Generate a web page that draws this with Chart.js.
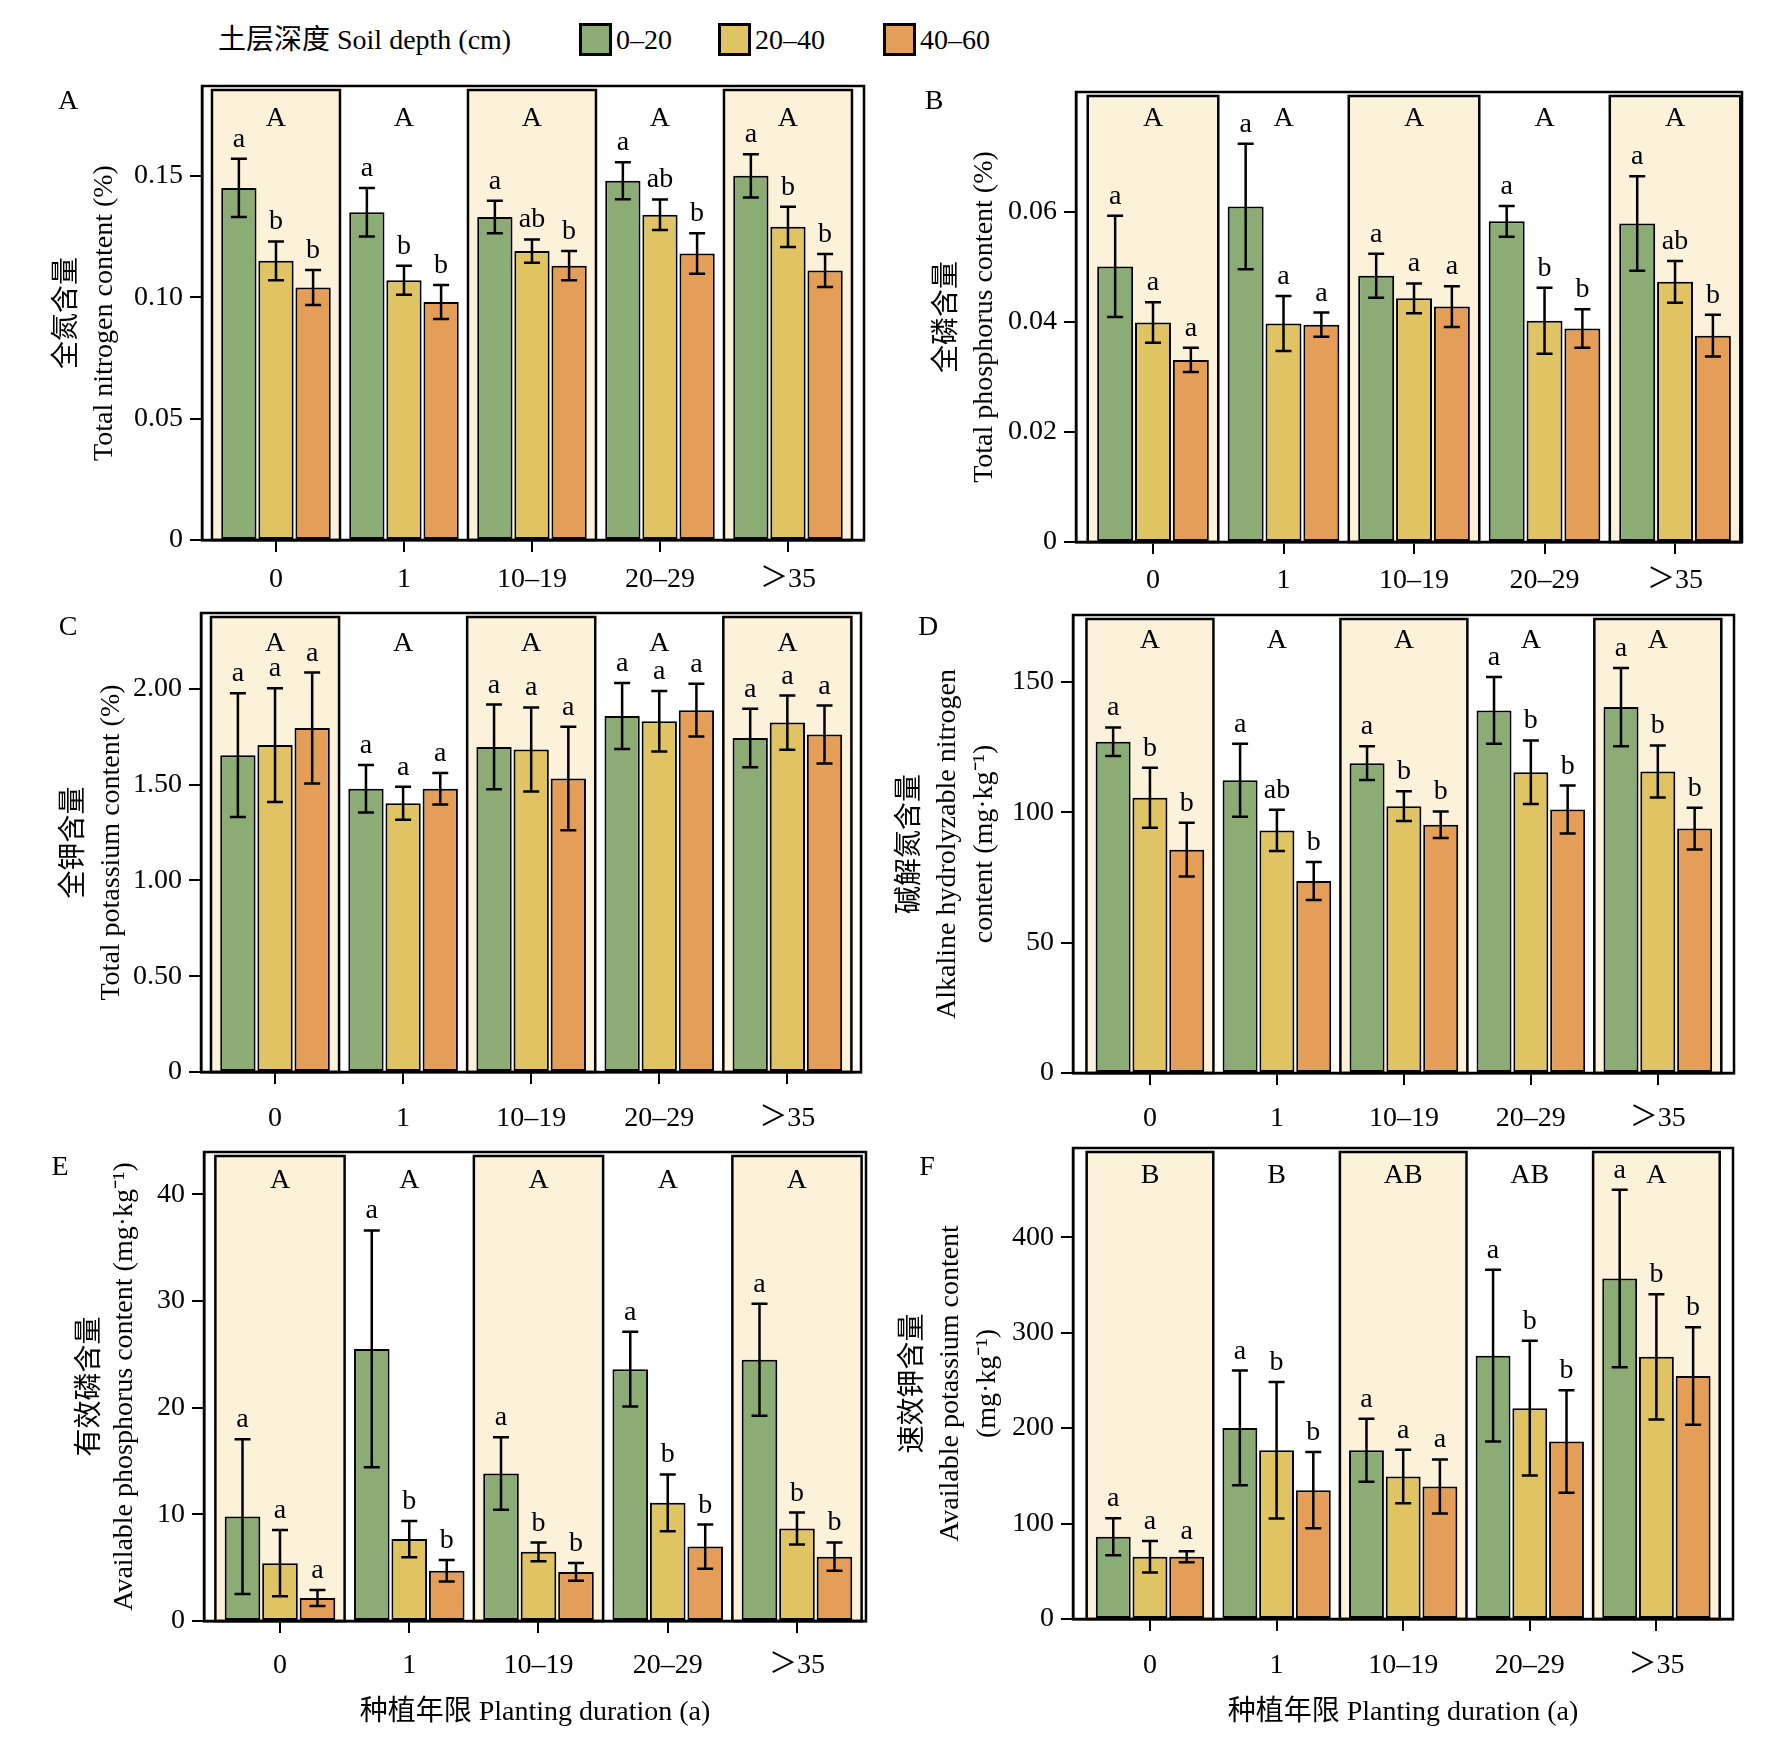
<!DOCTYPE html>
<html>
<head>
<meta charset="utf-8">
<script src="https://cdn.jsdelivr.net/npm/chart.js@4.4.1/dist/chart.umd.min.js"></script>
<style>
  body { margin: 0; width: 1777px; height: 1760px; position: relative; overflow: hidden; background: #fff;
         font-family: 'Liberation Serif', 'Noto Sans CJK SC', serif; color: #000; }
  canvas { position: absolute; }
  .txt { position: absolute; font-size: 28px; line-height: 1; white-space: nowrap; transform: translateY(-50%); }
  .tag { position: absolute; font-size: 28px; line-height: 1; transform: translate(-50%, -50%); }
  .key { position: absolute; top: 23px; width: 33px; height: 33px; box-sizing: border-box; border: 3px solid #000; }
</style>
</head>
<body>
<script>
// shared
const categories = ['0', '1', '10–19', '20–29', '＞35'];
const depths = ['0–20', '20–40', '40–60'];
const colors = ['#8BAD75', '#E0C463', '#E49E57'];
const shade = '#FCF1D9';

// A  total nitrogen (%)
const tnMean = [[0.145, 0.135, 0.133, 0.148, 0.150], [0.115, 0.107, 0.119, 0.134, 0.129], [0.104, 0.098, 0.113, 0.118, 0.111]];
const tnErr = [[0.012, 0.010, 0.0067, 0.0076, 0.0089], [0.008, 0.006, 0.0048, 0.0063, 0.0083], [0.0072, 0.007, 0.006, 0.0083, 0.0068]];
const tnLetters = [['a', 'a', 'a', 'a', 'a'], ['b', 'b', 'ab', 'ab', 'b'], ['b', 'b', 'b', 'b', 'b']];
const tnGroups = ['A', 'A', 'A', 'A', 'A'];
const tnTicks = [0, 0.05, 0.10, 0.15];
const tnTickLabels = ['0', '0.05', '0.10', '0.15'];

// B  total phosphorus (%)
const tpMean = [[0.0501, 0.0610, 0.0484, 0.0583, 0.0579], [0.0399, 0.0397, 0.0443, 0.0402, 0.0473], [0.0331, 0.0395, 0.0428, 0.0388, 0.0375]];
const tpErr = [[0.0092, 0.0114, 0.004, 0.0028, 0.0086], [0.0037, 0.005, 0.0027, 0.006, 0.0038], [0.0022, 0.0022, 0.0037, 0.0035, 0.0038]];
const tpLetters = [['a', 'a', 'a', 'a', 'a'], ['a', 'a', 'a', 'b', 'ab'], ['a', 'a', 'a', 'b', 'b']];
const tpGroups = ['A', 'A', 'A', 'A', 'A'];
const tpTicks = [0, 0.02, 0.04, 0.06];
const tpTickLabels = ['0', '0.02', '0.04', '0.06'];

// C  total potassium (%)
const tkMean = [[1.653, 1.478, 1.696, 1.858, 1.743], [1.706, 1.402, 1.683, 1.830, 1.823], [1.795, 1.478, 1.532, 1.888, 1.761]];
const tkErr = [[0.323, 0.124, 0.221, 0.172, 0.153], [0.297, 0.086, 0.219, 0.158, 0.141], [0.289, 0.082, 0.27, 0.138, 0.151]];
const tkLetters = [['a', 'a', 'a', 'a', 'a'], ['a', 'a', 'a', 'a', 'a'], ['a', 'a', 'a', 'a', 'a']];
const tkGroups = ['A', 'A', 'A', 'A', 'A'];
const tkTicks = [0, 0.5, 1, 1.5, 2];
const tkTickLabels = ['0', '0.50', '1.00', '1.50', '2.00'];

// D  alkaline hydrolyzable nitrogen (mg/kg)
const anMean = [[127.0, 112.2, 118.8, 139.0, 140.3], [105.5, 93.0, 102.3, 115.3, 115.6], [85.6, 73.6, 95.2, 101.0, 93.7]];
const anErr = [[5.5, 14, 6.5, 12.8, 15], [11.5, 7.9, 5.7, 12.2, 10], [10.3, 7.3, 5.1, 9.2, 8]];
const anLetters = [['a', 'a', 'a', 'a', 'a'], ['b', 'ab', 'b', 'b', 'b'], ['b', 'b', 'b', 'b', 'b']];
const anGroups = ['A', 'A', 'A', 'A', 'A'];
const anTicks = [0, 50, 100, 150];
const anTickLabels = ['0', '50', '100', '150'];

// E  available phosphorus (mg/kg)
const apMean = [[9.79, 25.5, 13.82, 23.6, 24.48], [5.42, 7.68, 6.48, 11.07, 8.66], [2.15, 4.71, 4.6, 6.97, 6.03]];
const apErr = [[7.25, 11.1, 3.4, 3.5, 5.24], [3.1, 1.7, 0.87, 2.67, 1.5], [0.75, 1.0, 0.83, 2.07, 1.33]];
const apLetters = [['a', 'a', 'a', 'a', 'a'], ['a', 'b', 'b', 'b', 'b'], ['a', 'b', 'b', 'b', 'b']];
const apGroups = ['A', 'A', 'A', 'A', 'A'];
const apTicks = [0, 10, 20, 30, 40];
const apTickLabels = ['0', '10', '20', '30', '40'];

// F  available potassium (mg/kg)
const akMean = [[86.2, 200.2, 176.7, 275.9, 356.7], [65.2, 176.7, 149.3, 220.8, 274.7], [65.2, 135.0, 138.8, 185.9, 254.5]];
const akErr = [[19.3, 60, 33, 90, 93], [16.4, 71.5, 28, 70.6, 65.6], [5.7, 40, 28.4, 53.6, 51]];
const akLetters = [['a', 'a', 'a', 'a', 'a'], ['a', 'b', 'a', 'b', 'b'], ['a', 'b', 'a', 'b', 'b']];
const akGroups = ['B', 'B', 'AB', 'AB', 'A'];
const akTicks = [0, 100, 200, 300, 400];
const akTickLabels = ['0', '100', '200', '300', '400'];

const xTitleText = '种植年限 Planting duration (a)';

Chart.defaults.font.family = "'Liberation Serif', 'Noto Sans CJK SC', serif";
Chart.defaults.font.size = 28;
Chart.defaults.color = '#000';

// legend
const legTitle = document.createElement('div');
legTitle.className = 'txt';
legTitle.style.left = '218px'; legTitle.style.top = '40px';
legTitle.textContent = '土层深度 Soil depth (cm)';
document.body.appendChild(legTitle);
[579, 718, 883].forEach((left, s) => {
  const box = document.createElement('div');
  box.className = 'key';
  box.style.left = left + 'px';
  box.style.background = colors[s];
  document.body.appendChild(box);
  const lab = document.createElement('div');
  lab.className = 'txt';
  lab.style.left = (left + 37) + 'px'; lab.style.top = '40px';
  lab.textContent = depths[s];
  document.body.appendChild(lab);
});

const panels = [
  { letter: 'A', tag: [68, 100], x: 0, y: 0, w: 888, h: 600, l: 202, t: 86, r: 864, b: 540,
    yMax: 0.187, xMin: -0.578, xMax: 4.594, mean: tnMean, err: tnErr, letters: tnLetters, groups: tnGroups,
    ticks: tnTicks, tickLabels: tnTickLabels, title: ['全氮含量', 'Total nitrogen content (%)'],
    titlePad: 49.5, lineH: 1.32, xLabelPad: 11, groupY: 40 },
  { letter: 'B', tag: [934, 100], x: 888, y: 0, w: 889, h: 600, l: 188, t: 92, r: 854, b: 542,
    yMax: 0.0818, xMin: -0.59, xMax: 4.513, mean: tpMean, err: tpErr, letters: tpLetters, groups: tpGroups,
    ticks: tpTicks, tickLabels: tpTickLabels, title: ['全磷含量', 'Total phosphorus content (%)'],
    titlePad: 41.5, lineH: 1.32, xLabelPad: 9.7, groupY: 34 },
  { letter: 'C', tag: [68, 626], x: 0, y: 600, w: 888, h: 530, l: 201, t: 13, r: 861, b: 472,
    yMax: 2.395, xMin: -0.578, xMax: 4.575, mean: tkMean, err: tkErr, letters: tkLetters, groups: tkGroups,
    ticks: tkTicks, tickLabels: tkTickLabels, title: ['全钾含量', 'Total potassium content (%)'],
    titlePad: 56.5, lineH: 1.32, xLabelPad: 17.8, groupY: 38 },
  { letter: 'D', tag: [928, 626], x: 888, y: 600, w: 889, h: 530, l: 185, t: 15, r: 846, b: 473,
    yMax: 175.6, xMin: -0.606, xMax: 4.6, mean: anMean, err: anErr, letters: anLetters, groups: anGroups,
    ticks: anTicks, tickLabels: anTickLabels,
    title: ['碱解氮含量', 'Alkaline hydrolyzable nitrogen', 'content (mg·kg⁻¹)'],
    titlePad: 4.5, lineH: 1.32, xLabelPad: 16.8, groupY: 33 },
  { letter: 'E', tag: [60, 1166], x: 0, y: 1130, w: 888, h: 630, l: 204, t: 22, r: 866, b: 491,
    yMax: 43.95, xMin: -0.588, xMax: 4.534, mean: apMean, err: apErr, letters: apLetters, groups: apGroups,
    ticks: apTicks, tickLabels: apTickLabels, title: ['有效磷含量', 'Available phosphorus content (mg·kg⁻¹)'],
    titlePad: 74, lineH: 1.2, xLabelPad: 15.7, groupY: 36, xTitle: xTitleText, xTitlePad: 30.7 },
  { letter: 'F', tag: [927, 1166], x: 888, y: 1130, w: 889, h: 630, l: 185, t: 18, r: 845, b: 489,
    yMax: 493.4, xMin: -0.608, xMax: 4.605, mean: akMean, err: akErr, letters: akLetters, groups: akGroups,
    ticks: akTicks, tickLabels: akTickLabels,
    title: ['速效钾含量', 'Available potassium content', '(mg·kg⁻¹)'],
    titlePad: 7, lineH: 1.32, xLabelPad: 17.8, groupY: 35, xTitle: xTitleText, xTitlePad: 31 }
];

function panelPlugin(p) {
  return {
    id: 'panel' + p.letter,
    beforeDatasetsDraw(chart) {
      const { ctx, chartArea: a, scales: { x } } = chart;
      ctx.save();
      categories.forEach((c, i) => {
        if (i % 2) return;
        const l = x.getPixelForValue(i - 0.5), r = x.getPixelForValue(i + 0.5);
        ctx.fillStyle = shade;
        ctx.fillRect(l, a.top + 4, r - l, a.bottom - a.top - 4);
        ctx.strokeStyle = '#000';
        ctx.lineWidth = 2.5;
        ctx.strokeRect(l, a.top + 4, r - l, a.bottom - a.top - 4);
      });
      ctx.restore();
    },
    afterDatasetsDraw(chart) {
      const { ctx, chartArea: a, scales: { x, y } } = chart;
      ctx.save();
      ctx.strokeStyle = '#000';
      ctx.lineWidth = 2.5;
      ctx.strokeRect(a.left, a.top, a.right - a.left, a.bottom - a.top);
      ctx.fillStyle = '#000';
      ctx.font = "28px 'Liberation Serif', serif";
      ctx.textAlign = 'center';
      ctx.textBaseline = 'alphabetic';
      chart.data.datasets.forEach((ds, s) => {
        chart.getDatasetMeta(s).data.forEach((bar, i) => {
          const v = p.mean[s][i], e = p.err[s][i];
          const yt = y.getPixelForValue(v + e), yb = y.getPixelForValue(v - e);
          ctx.beginPath();
          ctx.moveTo(bar.x, yt); ctx.lineTo(bar.x, yb);
          ctx.moveTo(bar.x - 8, yt); ctx.lineTo(bar.x + 8, yt);
          ctx.moveTo(bar.x - 8, yb); ctx.lineTo(bar.x + 8, yb);
          ctx.stroke();
          ctx.fillText(p.letters[s][i], bar.x, yt - 12);
        });
      });
      p.groups.forEach((g, i) => ctx.fillText(g, x.getPixelForValue(i), a.top + p.groupY));
      ctx.restore();
    }
  };
}

function makePanel(p) {
  const cv = document.createElement('canvas');
  cv.width = p.w; cv.height = p.h;
  cv.style.left = p.x + 'px'; cv.style.top = p.y + 'px';
  document.body.appendChild(cv);
  const tag = document.createElement('div');
  tag.className = 'tag';
  tag.style.left = p.tag[0] + 'px'; tag.style.top = p.tag[1] + 'px';
  tag.textContent = p.letter;
  document.body.appendChild(tag);

  const xAxisH = p.h - p.b;
  new Chart(cv, {
    type: 'bar',
    data: {
      datasets: depths.map((d, s) => ({
        label: d,
        data: p.mean[s].map((v, i) => ({ x: i, y: v })),
        backgroundColor: colors[s],
        borderColor: '#000',
        borderWidth: 2,
        borderSkipped: false,
        categoryPercentage: 0.87,
        barPercentage: 0.95
      }))
    },
    options: {
      responsive: false,
      animation: false,
      devicePixelRatio: 1,
      layout: { padding: { left: 0, top: p.t, right: p.w - p.r, bottom: 0 } },
      plugins: { legend: { display: false }, tooltip: { enabled: false } },
      scales: {
        x: {
          type: 'linear', min: p.xMin, max: p.xMax, offset: false,
          afterBuildTicks: s => { s.ticks = categories.map((c, i) => ({ value: i })); },
          afterFit: s => { s.height = xAxisH; s.paddingLeft = 0; s.paddingRight = 0; },
          grid: { offset: false, drawOnChartArea: false, color: '#000', lineWidth: 2, tickLength: 12 },
          border: { color: '#000', width: 2.5 },
          ticks: { padding: p.xLabelPad, maxRotation: 0, autoSkip: false, callback: v => categories[v] },
          title: p.xTitle
            ? { display: true, text: p.xTitle, padding: { top: 0, bottom: p.xTitlePad } }
            : { display: false }
        },
        y: {
          min: 0, max: p.yMax,
          afterBuildTicks: s => { s.ticks = p.ticks.map(v => ({ value: v })); },
          afterFit: s => { s.width = p.l; s.paddingTop = 0; s.paddingBottom = 0; },
          grid: { drawOnChartArea: false, color: '#000', lineWidth: 2, tickLength: 12 },
          border: { color: '#000', width: 2.5 },
          ticks: { padding: 7, callback: (v, i) => p.tickLabels[i] },
          title: { display: true, text: p.title, font: { size: 28, lineHeight: p.lineH },
                   padding: { top: p.titlePad, bottom: 0 } }
        }
      }
    },
    plugins: [panelPlugin(p)]
  });
}

panels.forEach(makePanel);
</script>
</body>
</html>
